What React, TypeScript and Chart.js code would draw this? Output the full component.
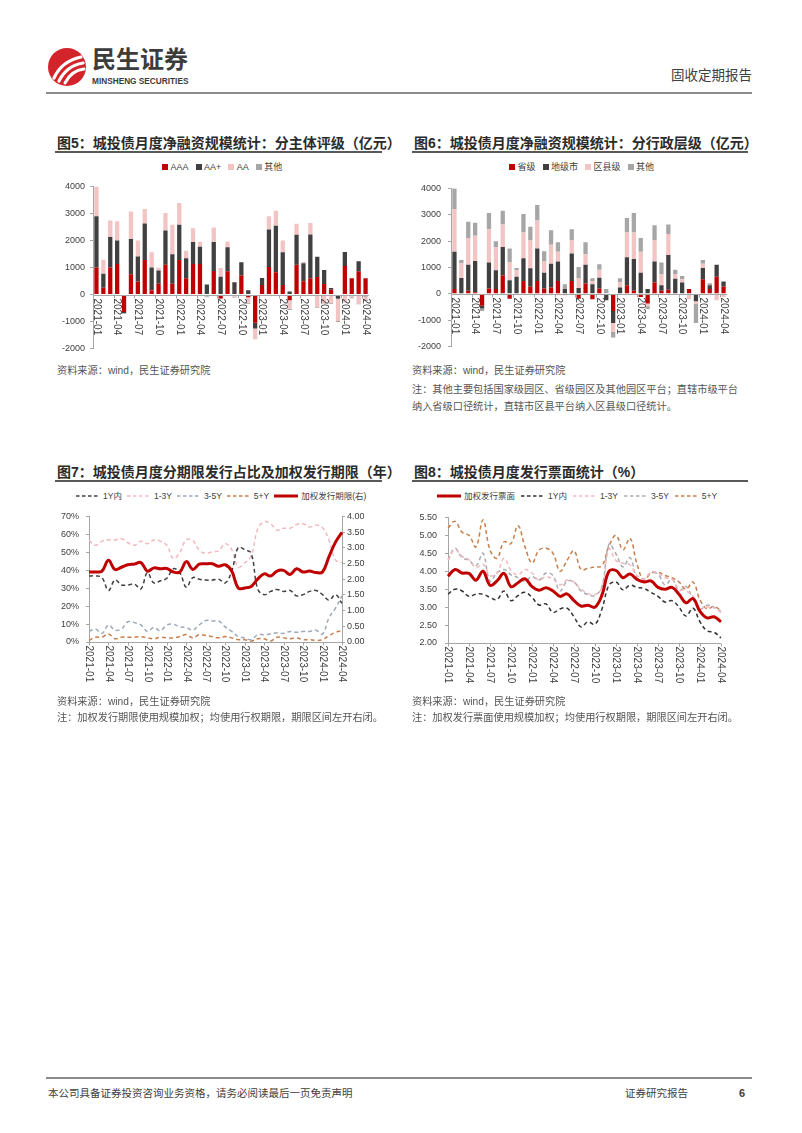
import React, { useEffect, useRef } from 'react';
import { Chart, registerables } from 'chart.js';

Chart.register(...registerables);

const FONT = '"Liberation Sans", "Noto Sans CJK SC", sans-serif';
Chart.defaults.font.family = FONT;
Chart.defaults.font.size = 9;
Chart.defaults.color = '#404040';

const months = [
  '2021-01', '2021-02', '2021-03', '2021-04', '2021-05', '2021-06', '2021-07', '2021-08', '2021-09', '2021-10', '2021-11', '2021-12',
  '2022-01', '2022-02', '2022-03', '2022-04', '2022-05', '2022-06', '2022-07', '2022-08', '2022-09', '2022-10', '2022-11', '2022-12',
  '2023-01', '2023-02', '2023-03', '2023-04', '2023-05', '2023-06', '2023-07', '2023-08', '2023-09', '2023-10', '2023-11', '2023-12',
  '2024-01', '2024-02', '2024-03', '2024-04',
];
const tickLabels = [
  '2021-01', '2021-04', '2021-07', '2021-10', '2022-01', '2022-04', '2022-07', '2022-10',
  '2023-01', '2023-04', '2023-07', '2023-10', '2024-01', '2024-04',
];

// 图5 分主体评级（亿元）
const ratingAAA = [1000, 250, 1000, 1130, -650, 750, 480, 1280, 150, 400, 1100, 400, 1280, 600, 1130, 1130, 0, 870, -150, 860, 0, 700, -100, -1040, 350, 1020, 820, 350, -210, 1100, 490, 600, 650, 390, 180, 0, 1060, 600, 860, 600];
const ratingAAplus = [1900, 520, 1130, 870, -30, 1300, 930, 1350, 850, 490, 1270, 1090, 1300, 740, 810, 640, 370, 1070, 660, 890, 450, 490, 160, -220, 260, 1390, 1720, 1210, 110, 1110, 670, 1620, 750, 520, 65, -160, 510, 0, 370, -60];
const ratingAA = [1100, 515, 610, 710, 0, 1020, 590, 530, 560, 100, 650, 1090, 810, 280, 510, 180, -60, 540, 320, 210, -80, -40, -200, -390, 0, 490, 560, 440, -320, 410, 50, 430, -470, -330, -300, -820, -270, -100, -330, -120];
const ratingOther = [0, 0, 0, -40, -30, 0, 0, 0, 0, 0, 0, 0, 0, 0, 0, 0, -40, 0, -20, 0, -30, 0, -40, 0, 0, 0, 0, 0, -40, 0, 0, 0, -30, -20, -40, -40, -20, -40, -30, -60];

// 图6 分行政层级（亿元）
const levelProv = [184, 0, 120, 60, -453, 208, 184, 698, -184, 0, 490, 270, 490, 208, 245, 490, 0, 490, -184, 392, -208, 208, 0, -650, 0, 331, 120, -120, -368, 429, 120, 160, 0, 0, 184, 0, 551, 184, 650, 282];
const levelCity = [1409, 600, 983, 1190, -98, 981, 711, 1079, 515, 650, 858, 698, 1226, 589, 895, 735, 184, 1042, 220, 711, 368, 405, -245, -453, 245, 1054, 1203, 797, 184, 796, 211, 1310, 576, 429, 0, -282, 429, 147, 453, 184];
const levelCounty = [1630, 564, 1017, 956, 0, 1262, 882, 858, 674, 245, 980, 1054, 1066, 428, 723, 368, -60, 515, 368, 404, 122, 306, 0, -331, 208, 943, 1005, 796, -100, 822, 404, 797, 159, 122, -208, -100, 160, 0, -245, -122];
const levelOther = [784, 123, 613, 490, -99, 613, 221, 515, 527, 85, 699, 527, 588, 393, 551, 368, 184, 404, 429, 454, 98, 208, 184, -220, 135, 552, 736, 527, -108, 551, 454, 368, 184, 123, 0, -721, 147, 73, 0, 0];

// 图7 分期限发行占比（%）及加权发行期限（年）
const share1Y = [36.8, 36.8, 35.9, 28.7, 34.6, 31.8, 31.8, 32.3, 29.6, 38.6, 32.9, 34.1, 35.5, 40.8, 38.6, 30.5, 35.9, 35, 34.5, 34.5, 35, 32.9, 39.5, 52.6, 51.5, 49.4, 29.6, 26.4, 28.2, 29.3, 28.2, 28.7, 25.7, 26.4, 28.2, 28.7, 26.4, 23.3, 26.4, 21.5];
const share1to3Y = [56.6, 53.9, 56.2, 56.9, 56.9, 57.5, 55.3, 53.9, 56.2, 54.8, 56.9, 56.2, 53.9, 46.5, 50, 57, 56.6, 51.2, 49.4, 50.3, 50.8, 54.8, 51.5, 41.8, 44, 47.9, 62.8, 67, 65.9, 62.3, 63.4, 63.4, 65.5, 65.9, 64.1, 65.2, 63.7, 56.6, 45.8, 44.3];
const share3to5Y = [5.9, 7.2, 4.8, 9.5, 6.6, 7.2, 11.3, 10.8, 9.5, 5.9, 8.1, 6.3, 9.5, 9.9, 8.4, 8.1, 6.6, 9.5, 12, 11.7, 11.7, 8.4, 5.9, 3.1, 2.2, 1.3, 4.1, 4.1, 4.5, 5.2, 4.8, 5.9, 5.4, 5.9, 5.9, 6.6, 4.5, 13.5, 18.9, 25.7];
const share5Yplus = [0.9, 2.7, 2.7, 4.5, 1.8, 2.7, 2.7, 2.7, 3.0, 2.3, 1.8, 2.7, 2.3, 2.3, 3.0, 4.1, 2.3, 4.1, 3.6, 3.0, 2.3, 3.0, 2.3, 1.3, 1.3, 0.5, 1.8, 1.8, 0.5, 2.7, 2.3, 1.8, 2.3, 1.3, 1.3, 0.9, 1.3, 3.6, 5.4, 6.3];
const weightedTerm = [2.23, 2.23, 2.26, 2.6, 2.31, 2.38, 2.46, 2.48, 2.53, 2.26, 2.36, 2.33, 2.34, 2.23, 2.23, 2.56, 2.31, 2.48, 2.49, 2.49, 2.41, 2.46, 2.26, 1.72, 1.72, 1.77, 2.0, 2.17, 2.1, 2.26, 2.28, 2.15, 2.33, 2.23, 2.26, 2.21, 2.23, 2.72, 3.18, 3.49];

// 图8 发行票面（%）
const couponWeighted = [3.86, 4.05, 3.95, 3.94, 3.75, 4.0, 3.61, 3.73, 3.94, 3.57, 3.68, 3.79, 3.57, 3.47, 3.54, 3.45, 3.3, 3.37, 3.18, 3.03, 3.05, 3.0, 3.34, 4.0, 4.02, 3.82, 3.92, 3.77, 3.7, 3.73, 3.55, 3.5, 3.55, 3.36, 3.12, 3.24, 2.88, 2.7, 2.73, 2.59];
const coupon1Y = [3.36, 3.5, 3.45, 3.3, 3.36, 3.36, 3.27, 3.21, 3.45, 3.18, 3.32, 3.41, 3.27, 3.06, 3.09, 2.85, 2.95, 2.97, 2.73, 2.45, 2.59, 2.52, 2.95, 3.61, 3.7, 3.48, 3.61, 3.55, 3.52, 3.41, 3.3, 3.14, 3.18, 3.0, 2.75, 2.97, 2.59, 2.34, 2.3, 2.14];
const coupon1to3Y = [4.3, 4.6, 4.42, 4.32, 4.1, 4.2, 3.88, 3.95, 4.36, 4.02, 3.9, 4.05, 3.95, 3.75, 3.85, 3.78, 3.62, 3.75, 3.7, 3.5, 3.38, 3.35, 3.55, 4.62, 4.3, 4.22, 4.18, 3.88, 3.78, 3.98, 3.95, 3.82, 3.78, 3.5, 3.45, 3.3, 2.95, 3.0, 2.98, 2.85];
const coupon3to5Y = [4.32, 4.64, 4.38, 4.3, 4.15, 4.5, 3.72, 3.95, 4.05, 3.9, 3.82, 3.72, 3.85, 3.75, 3.95, 3.88, 3.45, 3.72, 3.7, 3.45, 3.35, 3.32, 3.58, 4.75, 4.48, 4.12, 4.38, 3.82, 3.78, 3.95, 3.92, 3.62, 3.78, 3.45, 3.58, 3.22, 2.95, 3.05, 3.0, 2.88];
const coupon5Yplus = [5.2, 5.39, 5.09, 5.0, 4.68, 5.43, 4.59, 4.36, 4.82, 4.77, 5.27, 4.68, 4.23, 4.59, 4.64, 4.5, 4.0, 4.3, 4.57, 4.05, 4.08, 4.12, 4.15, 4.7, 5.0, 4.6, 4.92, 4.2, 3.75, 3.95, 3.97, 3.88, 3.82, 3.7, 3.5, 3.7, 3.2, 2.95, 3.02, 2.9];

const RED = '#C00000';
const DARK = '#404040';
const PINK = '#F2C4C4';
const GRAY = '#A6A6A6';
const BLUEGRAY = '#9FAAB8';
const ORANGE = '#C77E4A';
const LPINK = '#F3B9BF';
const AXIS = '#A6A6A6';
const TXT = '#404040';

const axisPlugin: any = {
  id: 'customAxis',
  afterDatasetsDraw(chart: any, _args: any, opts: any) {
    const { ctx, chartArea } = chart;
    const xs = chart.scales.x;
    const ys = chart.scales.y;
    const y0 = Math.round(opts.atZero ? ys.getPixelForValue(0) : chartArea.bottom) + 0.5;
    ctx.save();
    ctx.strokeStyle = AXIS;
    ctx.lineWidth = 1;
    ctx.beginPath();
    ctx.moveTo(chartArea.left, y0);
    ctx.lineTo(chartArea.right, y0);
    ctx.stroke();
    const labels = chart.data.labels as string[];
    const step = xs.getPixelForValue(1) - xs.getPixelForValue(0);
    ctx.font = `10px ${FONT}`;
    ctx.fillStyle = TXT;
    ctx.textAlign = 'left';
    ctx.textBaseline = 'middle';
    tickLabels.forEach((t) => {
      const i = labels.indexOf(t);
      if (i < 0) return;
      const x = xs.getPixelForValue(i);
      const tx = Math.round(opts.between ? x - step / 2 : x) + 0.5;
      ctx.beginPath();
      ctx.moveTo(tx, y0);
      ctx.lineTo(tx, y0 + 3);
      ctx.stroke();
      ctx.save();
      ctx.translate(x, y0 + 3);
      ctx.rotate(Math.PI / 2);
      ctx.fillText(t, 0, 0);
      ctx.restore();
    });
    ctx.restore();
  },
};

function yAxis(min: number, max: number, step: number, fmt: (v: number) => string, width: number, pad: number, position = 'left', extra: any = {}) {
  return {
    position,
    min,
    max,
    ticks: { stepSize: step, callback: (v: any) => fmt(Number(v)), padding: pad, color: TXT, font: { size: 9 } },
    grid: { display: true, drawOnChartArea: false, drawTicks: true, tickLength: 3, color: AXIS },
    border: { display: true, color: AXIS },
    afterFit: (s: any) => { s.width = width; },
    ...extra,
  };
}

function barConfig(sets: { label: string; data: number[]; color: string }[], yWidth: number, yPad: number) {
  return {
    type: 'bar',
    data: {
      labels: months,
      datasets: sets.map((s) => ({
        label: s.label,
        data: s.data,
        backgroundColor: s.color,
        borderWidth: 0,
        categoryPercentage: 1,
        barPercentage: 0.62,
      })),
    },
    options: {
      animation: false,
      responsive: false,
      devicePixelRatio: 1,
      events: [],
      layout: { padding: { left: 0, right: 5, top: 10, bottom: 10 } },
      plugins: { legend: { display: false }, tooltip: { enabled: false }, customAxis: { atZero: true, between: true } },
      scales: {
        x: { type: 'category', display: false, stacked: true, offset: true },
        y: yAxis(-2000, 4000, 1000, (v) => String(v), yWidth, yPad, 'left', { stacked: true }),
      },
    },
    plugins: [axisPlugin],
  };
}

const dashed = (label: string, data: number[], color: string, axis = 'y') => ({
  label, data, borderColor: color, backgroundColor: color, borderWidth: 1.5, borderDash: [4, 3],
  pointRadius: 0, tension: 0.4, fill: false, yAxisID: axis,
});
const solid = (label: string, data: number[], color: string, axis = 'y') => ({
  label, data, borderColor: color, backgroundColor: color, borderWidth: 3,
  pointRadius: 0, tension: 0.4, fill: false, yAxisID: axis,
});

function chart7Config() {
  return {
    type: 'line',
    data: {
      labels: months,
      datasets: [
        solid('加权发行期限(右)', weightedTerm, RED, 'y1'),
        dashed('1Y内', share1Y, DARK),
        dashed('1-3Y', share1to3Y, LPINK),
        dashed('3-5Y', share3to5Y, BLUEGRAY),
        dashed('5+Y', share5Yplus, ORANGE),
      ],
    },
    options: {
      animation: false,
      responsive: false,
      devicePixelRatio: 1,
      events: [],
      layout: { padding: { left: 0, right: 0, top: 10, bottom: 55 } },
      plugins: { legend: { display: false }, tooltip: { enabled: false }, customAxis: { atZero: false, between: false } },
      scales: {
        x: { type: 'category', display: false, offset: false },
        y: yAxis(0, 70, 10, (v) => `${v}%`, 49, 7),
        y1: yAxis(0, 4, 0.5, (v) => v.toFixed(2), 38, 2, 'right'),
      },
    },
    plugins: [axisPlugin],
  };
}

function chart8Config() {
  return {
    type: 'line',
    data: {
      labels: months,
      datasets: [
        solid('加权发行票面', couponWeighted, RED),
        dashed('1Y内', coupon1Y, '#333333'),
        dashed('1-3Y', coupon1to3Y, LPINK),
        dashed('3-5Y', coupon3to5Y, '#A8ADB5'),
        dashed('5+Y', coupon5Yplus, ORANGE),
      ],
    },
    options: {
      animation: false,
      responsive: false,
      devicePixelRatio: 1,
      events: [],
      layout: { padding: { left: 0, right: 7, top: 10, bottom: 55 } },
      plugins: { legend: { display: false }, tooltip: { enabled: false }, customAxis: { atZero: false, between: false } },
      scales: {
        x: { type: 'category', display: false, offset: false },
        y: yAxis(2, 5.5, 0.5, (v) => v.toFixed(2), 50, 8),
      },
    },
    plugins: [axisPlugin],
  };
}

function ChartCanvas({ left, top, width, height, make }: { left: number; top: number; width: number; height: number; make: () => any }) {
  const ref = useRef<HTMLCanvasElement>(null);
  useEffect(() => {
    const chart = new Chart(ref.current as HTMLCanvasElement, make());
    return () => chart.destroy();
  }, []);
  return (
    <canvas
      ref={ref}
      width={width}
      height={height}
      style={{ position: 'absolute', left, top, width, height, display: 'block' }}
    />
  );
}

type LegendItem = { label: string; color: string; kind: 'box' | 'dash' | 'solid' };

function Legend({ left, top, items, font, gap }: { left: number; top: number; items: LegendItem[]; font: number; gap: number }) {
  return (
    <div style={{ position: 'absolute', left, top: top - 7, height: 14, display: 'flex', alignItems: 'center', fontSize: font, color: TXT, whiteSpace: 'nowrap' }}>
      {items.map((it, i) => (
        <div key={i} style={{ display: 'flex', alignItems: 'center', marginRight: gap }}>
          {it.kind === 'box' ? (
            <span style={{ display: 'inline-block', width: 6, height: 6, background: it.color }} />
          ) : (
            <svg width={24} height={6} style={{ display: 'block' }}>
              <line x1={0} y1={3} x2={24} y2={3} stroke={it.color} strokeWidth={it.kind === 'solid' ? 3 : 1.6} strokeDasharray={it.kind === 'dash' ? '3.5 2.5' : undefined} />
            </svg>
          )}
          <span style={{ marginLeft: it.kind === 'box' ? 2.5 : 3, lineHeight: '14px' }}>{it.label}</span>
        </div>
      ))}
    </div>
  );
}

function Title({ left, top, right, text }: { left: number; top: number; right: number; text: string }) {
  return (
    <>
      <div style={{ position: 'absolute', left: left + 2, top: top - 10, height: 20, lineHeight: '20px', fontSize: 14, fontWeight: 700, color: '#2b2b2b', whiteSpace: 'nowrap' }}>{text}</div>
      <div style={{ position: 'absolute', left, top: top + 8, width: right - left, height: 1.5, background: '#595959' }} />
    </>
  );
}

function Note({ left, top, text }: { left: number; top: number; text: string }) {
  return (
    <div style={{ position: 'absolute', left, top: top - 8, height: 16, lineHeight: '16px', fontSize: 10.2, color: '#555', whiteSpace: 'nowrap' }}>{text}</div>
  );
}

export default function App() {
  return (
    <div style={{ position: 'absolute', left: 0, top: 0, width: 802, height: 1133, background: '#fff', fontFamily: FONT, overflow: 'hidden' }}>
      {/* header */}
      <svg width={44} height={44} style={{ position: 'absolute', left: 45, top: 45 }}>
        <circle cx={22} cy={22} r={19} fill="#D3242B" />
        <path d="M9 33 C 14 22, 22 15, 36 12" stroke="#fff" strokeWidth={3.2} fill="none" strokeLinecap="round" />
        <path d="M14 36 C 19 26, 26 20, 38 18" stroke="#fff" strokeWidth={3.2} fill="none" strokeLinecap="round" />
        <path d="M20 38 C 24 30, 30 25, 39 24" stroke="#fff" strokeWidth={3} fill="none" strokeLinecap="round" />
      </svg>
      <div style={{ position: 'absolute', left: 92, top: 46, fontSize: 24, lineHeight: '28px', fontWeight: 700, color: '#3c3c3c', letterSpacing: 0 }}>民生证券</div>
      <div style={{ position: 'absolute', left: 92, top: 75, fontSize: 9.5, lineHeight: '12px', fontWeight: 700, color: '#3c3c3c', fontFamily: '"Liberation Sans Narrow", "Liberation Sans", sans-serif', transform: 'scaleX(0.87)', transformOrigin: 'left center', whiteSpace: 'nowrap' }}>MINSHENG SECURITIES</div>
      <div style={{ position: 'absolute', right: 802 - 752, top: 67, fontSize: 13.5, lineHeight: '18px', color: '#404040' }}>固收定期报告</div>
      <div style={{ position: 'absolute', left: 46, top: 92, width: 706, height: 2, background: '#8c8c8c' }} />

      {/* Chart 5 */}
      <Title left={55} top={143} right={382} text="图5：城投债月度净融资规模统计：分主体评级（亿元）" />
      <Legend left={162} top={167} font={9} gap={7} items={[
        { label: 'AAA', color: RED, kind: 'box' },
        { label: 'AA+', color: DARK, kind: 'box' },
        { label: 'AA', color: PINK, kind: 'box' },
        { label: '其他', color: GRAY, kind: 'box' },
      ]} />
      <ChartCanvas left={40} top={176} width={334} height={183} make={() => barConfig([
        { label: 'AAA', data: ratingAAA, color: RED },
        { label: 'AA+', data: ratingAAplus, color: DARK },
        { label: 'AA', data: ratingAA, color: PINK },
        { label: '其他', data: ratingOther, color: GRAY },
      ], 53, 5)} />
      <Note left={57} top={371} text="资料来源：wind，民生证券研究院" />

      {/* Chart 6 */}
      <Title left={412} top={143} right={748} text="图6：城投债月度净融资规模统计：分行政层级（亿元）" />
      <Legend left={509} top={167} font={9} gap={7} items={[
        { label: '省级', color: RED, kind: 'box' },
        { label: '地级市', color: DARK, kind: 'box' },
        { label: '区县级', color: PINK, kind: 'box' },
        { label: '其他', color: GRAY, kind: 'box' },
      ]} />
      <ChartCanvas left={398} top={176} width={334} height={183} make={() => barConfig([
        { label: '省级', data: levelProv, color: RED },
        { label: '地级市', data: levelCity, color: DARK },
        { label: '区县级', data: levelCounty, color: PINK },
        { label: '其他', data: levelOther, color: GRAY },
      ], 53, 7)} />
      <Note left={412} top={371} text="资料来源：wind，民生证券研究院" />
      <Note left={412} top={390} text="注：其他主要包括国家级园区、省级园区及其他园区平台；直辖市级平台" />
      <Note left={412} top={407} text="纳入省级口径统计，直辖市区县平台纳入区县级口径统计。" />

      {/* Chart 7 */}
      <Title left={55} top={472} right={382} text="图7：城投债月度分期限发行占比及加权发行期限（年）" />
      <Legend left={76} top={496} font={8.5} gap={5} items={[
        { label: '1Y内', color: DARK, kind: 'dash' },
        { label: '1-3Y', color: LPINK, kind: 'dash' },
        { label: '3-5Y', color: BLUEGRAY, kind: 'dash' },
        { label: '5+Y', color: ORANGE, kind: 'dash' },
        { label: '加权发行期限(右)', color: RED, kind: 'solid' },
      ]} />
      <ChartCanvas left={40} top={504} width={340} height={193} make={chart7Config} />
      <Note left={57} top={702} text="资料来源：wind，民生证券研究院" />
      <Note left={57} top={718} text="注：加权发行期限使用规模加权；均使用行权期限，期限区间左开右闭。" />

      {/* Chart 8 */}
      <Title left={412} top={472} right={748} text="图8：城投债月度发行票面统计（%）" />
      <Legend left={437} top={496} font={8.5} gap={6} items={[
        { label: '加权发行票面', color: RED, kind: 'solid' },
        { label: '1Y内', color: '#333333', kind: 'dash' },
        { label: '1-3Y', color: LPINK, kind: 'dash' },
        { label: '3-5Y', color: '#A8ADB5', kind: 'dash' },
        { label: '5+Y', color: ORANGE, kind: 'dash' },
      ]} />
      <ChartCanvas left={398} top={504} width={330} height={194} make={chart8Config} />
      <Note left={412} top={702} text="资料来源：wind，民生证券研究院" />
      <Note left={412} top={718} text="注：加权发行票面使用规模加权；均使用行权期限，期限区间左开右闭。" />

      {/* footer */}
      <div style={{ position: 'absolute', left: 46, top: 1077, width: 706, height: 1.5, background: '#8c8c8c' }} />
      <div style={{ position: 'absolute', left: 48, top: 1085, fontSize: 10.5, lineHeight: '16px', color: '#404040' }}>本公司具备证券投资咨询业务资格，请务必阅读最后一页免责声明</div>
      <div style={{ position: 'absolute', left: 625, top: 1085, fontSize: 10.5, lineHeight: '16px', color: '#404040' }}>证券研究报告</div>
      <div style={{ position: 'absolute', left: 739, top: 1085, fontSize: 11, lineHeight: '16px', fontWeight: 700, color: '#404040' }}>6</div>
    </div>
  );
}
